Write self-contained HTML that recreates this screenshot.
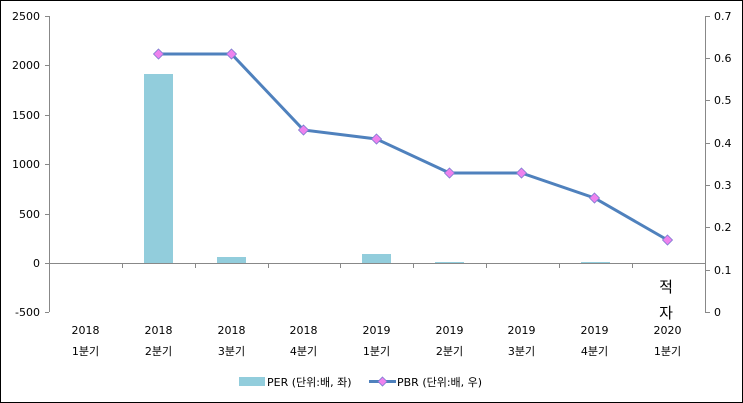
<!DOCTYPE html>
<html><head><meta charset="utf-8"><style>body{margin:0;background:#fff}svg{display:block}text{font-family:"DejaVu Sans","Noto Sans CJK KR",sans-serif;font-size:11px;fill:#000}</style></head><body>
<svg width="743" height="403" xmlns="http://www.w3.org/2000/svg">
<rect x="0.5" y="0.5" width="742" height="402" fill="#fff" stroke="#000"/>
<g stroke="#888" stroke-width="1">
<line x1="49.5" y1="16" x2="49.5" y2="312"/>
<line x1="705.5" y1="16" x2="705.5" y2="312"/>
<line x1="49" y1="263.5" x2="705" y2="263.5"/>
<line x1="45" y1="16.5" x2="49" y2="16.5"/><line x1="45" y1="65.5" x2="49" y2="65.5"/><line x1="45" y1="115.5" x2="49" y2="115.5"/><line x1="45" y1="164.5" x2="49" y2="164.5"/><line x1="45" y1="214.5" x2="49" y2="214.5"/><line x1="45" y1="263.5" x2="49" y2="263.5"/><line x1="45" y1="312.5" x2="49" y2="312.5"/>
<line x1="705" y1="16.5" x2="710" y2="16.5"/><line x1="705" y1="58.5" x2="710" y2="58.5"/><line x1="705" y1="100.5" x2="710" y2="100.5"/><line x1="705" y1="143.5" x2="710" y2="143.5"/><line x1="705" y1="185.5" x2="710" y2="185.5"/><line x1="705" y1="227.5" x2="710" y2="227.5"/><line x1="705" y1="270.5" x2="710" y2="270.5"/><line x1="705" y1="312.5" x2="710" y2="312.5"/>
<line x1="122.5" y1="263" x2="122.5" y2="268"/><line x1="195.5" y1="263" x2="195.5" y2="268"/><line x1="268.5" y1="263" x2="268.5" y2="268"/><line x1="340.5" y1="263" x2="340.5" y2="268"/><line x1="413.5" y1="263" x2="413.5" y2="268"/><line x1="486.5" y1="263" x2="486.5" y2="268"/><line x1="559.5" y1="263" x2="559.5" y2="268"/><line x1="632.5" y1="263" x2="632.5" y2="268"/>
</g>
<g text-anchor="end">
<text x="40" y="20">2500</text><text x="40" y="69">2000</text><text x="40" y="119">1500</text><text x="40" y="168">1000</text><text x="40" y="218">500</text><text x="40" y="267">0</text><text x="40" y="316">-500</text>
</g>
<g>
<text x="714" y="20">0.7</text><text x="714" y="62">0.6</text><text x="714" y="104">0.5</text><text x="714" y="147">0.4</text><text x="714" y="189">0.3</text><text x="714" y="231">0.2</text><text x="714" y="274">0.1</text><text x="714" y="316">0</text>
</g>
<g fill="#92cddc">
<rect x="144" y="74" width="29" height="189"/>
<rect x="217" y="257" width="29" height="6"/>
<rect x="362" y="254" width="29" height="9"/>
<rect x="435" y="262" width="29" height="1"/>
<rect x="581" y="262" width="29" height="1"/>
</g>
<polyline points="158.5,54 231.5,54 303.5,130 376.5,139 449.5,173 521.5,173 594.5,198 667.5,240" fill="none" stroke="#4f81bd" stroke-width="3"/>
<g fill="#ee82ee" stroke="#7b7bd0" stroke-width="0.8">
<path d="M158.5 49l5 5-5 5-5-5z"/><path d="M231.5 49l5 5-5 5-5-5z"/><path d="M303.5 125l5 5-5 5-5-5z"/><path d="M376.5 134l5 5-5 5-5-5z"/><path d="M449.5 168l5 5-5 5-5-5z"/><path d="M521.5 168l5 5-5 5-5-5z"/><path d="M594.5 193l5 5-5 5-5-5z"/><path d="M667.5 235l5 5-5 5-5-5z"/>
</g>
<text x="666" y="292" text-anchor="middle" style="font-size:15px">적</text>
<text x="666" y="318" text-anchor="middle" style="font-size:15px">자</text>
<g text-anchor="middle">
<text x="85.5" y="334">2018</text><text x="158.5" y="334">2018</text><text x="231.5" y="334">2018</text><text x="303.5" y="334">2018</text><text x="376.5" y="334">2019</text><text x="449.5" y="334">2019</text><text x="521.5" y="334">2019</text><text x="594.5" y="334">2019</text><text x="667.5" y="334">2020</text>
<text x="85.5" y="355">1분기</text><text x="158.5" y="355">2분기</text><text x="231.5" y="355">3분기</text><text x="303.5" y="355">4분기</text><text x="376.5" y="355">1분기</text><text x="449.5" y="355">2분기</text><text x="521.5" y="355">3분기</text><text x="594.5" y="355">4분기</text><text x="667.5" y="355">1분기</text>
</g>
<rect x="239" y="377" width="26" height="9" fill="#92cddc"/>
<text x="267" y="386">PER (단위:배, 좌)</text>
<line x1="269" y1="381.5" x2="296" y2="381.5" stroke="#4f81bd" stroke-width="3" transform="translate(100,0)"/>
<path d="M382.5 377l4.5 4.5-4.5 4.5-4.5-4.5z" fill="#ee82ee" stroke="#7b7bd0" stroke-width="0.8"/>
<text x="397" y="386">PBR (단위:배, 우)</text>
</svg>
</body></html>
